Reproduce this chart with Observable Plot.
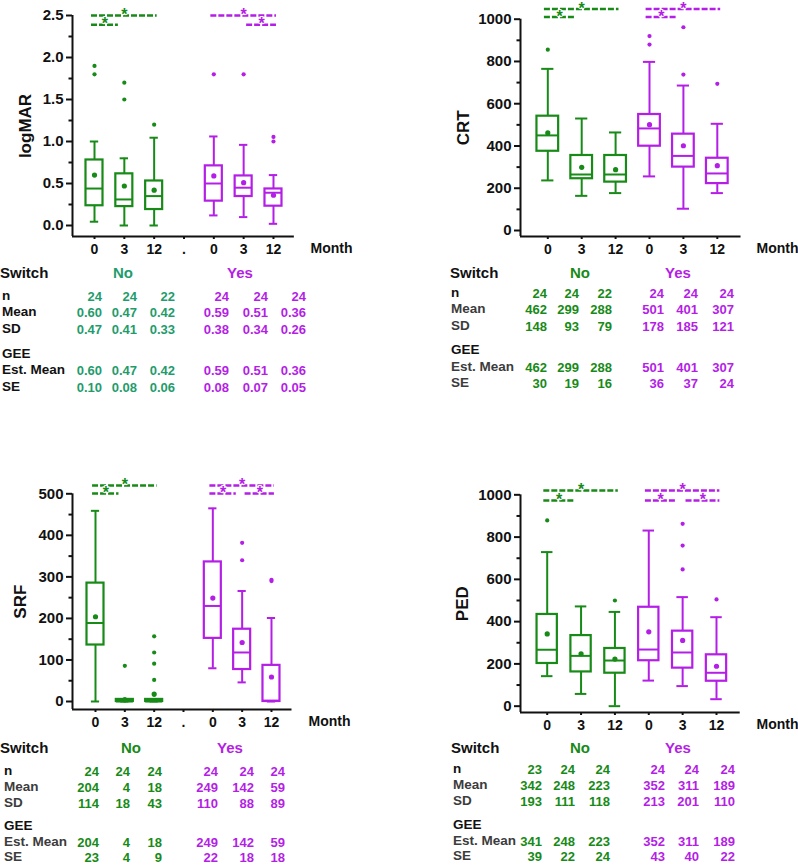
<!DOCTYPE html>
<html><head><meta charset="utf-8">
<script src="https://cdn.jsdelivr.net/npm/d3@7"></script>
<script src="https://cdn.jsdelivr.net/npm/@observablehq/plot@0.6"></script>
<style>
body{margin:0;background:#fff;font-family:"Liberation Sans",Arial,sans-serif;}
#wrap{position:relative;width:798px;height:866px;overflow:hidden;background:#fff;}
.panel{position:absolute;}
.t{position:absolute;font-weight:bold;line-height:1;white-space:nowrap;}
</style></head><body><div id="wrap"></div>
<script>
// ---------- shared categories ----------
const switchGroups = ["No", "Yes"];
const monthsWithGap = ["0", "3", "12", ".", "0", "3", "12"];
const monthsNoGap = ["0", "3", "12", "0", "3", "12"];
const rowLabels = ["n", "Mean", "SD", "GEE", "Est. Mean", "SE"];

// ---------- logMAR ----------
const logmarLow = [0.045, 0, 0, 0.12, 0.10, 0.02];
const logmarQ1 = [0.235, 0.225, 0.19, 0.29, 0.345, 0.23];
const logmarMedian = [0.44, 0.31, 0.35, 0.50, 0.45, 0.39];
const logmarQ3 = [0.78, 0.615, 0.53, 0.71, 0.59, 0.435];
const logmarHigh = [1.0, 0.80, 1.045, 1.06, 0.96, 0.60];
const logmarOutliers = [[1.9, 1.8], [1.7, 1.5], [1.2], [1.8], [1.8], [1.055, 1.0]];
const logmarN = [24, 24, 22, 24, 24, 24];
const logmarMean = [0.60, 0.47, 0.42, 0.59, 0.51, 0.36];
const logmarSD = [0.47, 0.41, 0.33, 0.38, 0.34, 0.26];
const logmarEstMean = [0.60, 0.47, 0.42, 0.59, 0.51, 0.36];
const logmarSE = [0.10, 0.08, 0.06, 0.08, 0.07, 0.05];
const logmarSig = [["No", 0, 2, 0], ["No", 0, 1, 1], ["Yes", 0, 2, 0], ["Yes", 1, 2, 1]];
const logmarSigLevels = [2.5, 2.39];
const logmarTicks = [0, 0.5, 1.0, 1.5, 2.0, 2.5];
const logmarMinor = [0.25, 0.75, 1.25, 1.75, 2.25];

// ---------- CRT ----------
const crtLow = [237, 164, 177, 256, 103, 177];
const crtQ1 = [375, 245, 229, 399, 300, 222];
const crtMedian = [450, 265, 265, 483, 353, 270];
const crtQ3 = [541, 355, 355, 549, 456, 342];
const crtHigh = [765, 530, 464, 798, 686, 505];
const crtOutliers = [[856], [], [], [920, 880], [962, 738], [694]];
const crtN = [24, 24, 22, 24, 24, 24];
const crtMean = [462, 299, 288, 501, 401, 307];
const crtSD = [148, 93, 79, 178, 185, 121];
const crtEstMean = [462, 299, 288, 501, 401, 307];
const crtSE = [30, 19, 16, 36, 37, 24];
const crtSig = [["No", 0, 2, 0], ["No", 0, 1, 1], ["Yes", 0, 2, 0], ["Yes", 0, 1, 1]];
const crtSigLevels = [1048, 1010];
const crtTicks = [0, 200, 400, 600, 800, 1000];
const crtMinor = [100, 300, 500, 700, 900];

// ---------- SRF ----------
const srfLow = [0, 0, 0, 80, 46, 0];
const srfQ1 = [136, 0, 0, 152, 77, 0];
const srfMedian = [189, 0, 0, 230, 118, 2];
const srfQ3 = [285, 5, 5, 336, 174, 87];
const srfHigh = [459, 5, 5, 465, 266, 201];
const srfOutliers = [[], [86, 5], [157, 118, 91, 52, 16], [], [382, 340], [290, 293]];
const srfN = [24, 24, 24, 24, 24, 24];
const srfMean = [204, 4, 18, 249, 142, 59];
const srfSD = [114, 18, 43, 110, 88, 89];
const srfEstMean = [204, 4, 18, 249, 142, 59];
const srfSE = [23, 4, 9, 22, 18, 18];
const srfSig = [["No", 0, 2, 0], ["No", 0, 1, 1], ["Yes", 0, 2, 0], ["Yes", 0, 1, 1], ["Yes", 1, 2, 1]];
const srfSigLevels = [520, 501];
const srfTicks = [0, 100, 200, 300, 400, 500];
const srfMinor = [50, 150, 250, 350, 450];

// ---------- PED ----------
const pedLow = [142, 58, 0, 121, 95, 33];
const pedQ1 = [202, 162, 156, 215, 180, 118];
const pedMedian = [267, 238, 216, 268, 254, 158];
const pedQ3 = [434, 334, 273, 468, 355, 243];
const pedHigh = [729, 472, 446, 831, 516, 421];
const pedOutliers = [[879], [], [500], [], [863, 760, 647], [505]];
const pedN = [23, 24, 24, 24, 24, 24];
const pedMean = [342, 248, 223, 352, 311, 189];
const pedSD = [193, 111, 118, 213, 201, 110];
const pedEstMean = [341, 248, 223, 352, 311, 189];
const pedSE = [39, 22, 24, 43, 40, 22];
const pedSig = [["No", 0, 2, 0], ["No", 0, 1, 1], ["Yes", 0, 2, 0], ["Yes", 0, 1, 1], ["Yes", 1, 2, 1]];
const pedSigLevels = [1020, 973];
const pedTicks = [0, 200, 400, 600, 800, 1000];
const pedMinor = [100, 300, 500, 700, 900];

// ---------- styles ----------
const GREEN = "#178a17", PURPLE = "#b41ee6", TEAL = "#1f9c6c", INK = "#111", GRAY = "#3c3c3c";
const FONT = "Liberation Sans, Arial, sans-serif";

const panels = [
  {ylabel: "logMAR", cats: monthsWithGap, low: logmarLow, q1: logmarQ1, median: logmarMedian, q3: logmarQ3, high: logmarHigh,
   outliers: logmarOutliers, mean: logmarMean, sig: logmarSig, sigLevels: logmarSigLevels, yMax: 2.5, ticks: logmarTicks, minor: logmarMinor,
   fmt: d3.format(".1f"), rows: [logmarN, logmarMean, logmarSD, null, logmarEstMean, logmarSE], vfmt: [d3.format("d"), d3.format(".2f"), d3.format(".2f"), null, d3.format(".2f"), d3.format(".2f")],
   L: {left: 0, top: 0, width: 399, height: 262, marginLeft: 72, yTop: 15, y0: 225, yAxisBottom: 236, x0: 94, dx: 29.83, monthEnd: 352, hw: 0.285, cw: 0.14, ylabOff: 54},
   T: {switchX: 0, labelX: 2, switchY: 272, noX: 123, yesX: 240, rowY: [296, 312, 329, 354, 370, 387], colRight: [102, 137, 175, 229, 268, 306], noColor: TEAL, grayLabels: false}},
  {ylabel: "CRT", cats: monthsNoGap, low: crtLow, q1: crtQ1, median: crtMedian, q3: crtQ3, high: crtHigh,
   outliers: crtOutliers, mean: crtMean, sig: crtSig, sigLevels: crtSigLevels, yMax: 1000, ticks: crtTicks, minor: crtMinor,
   fmt: d3.format("d"), rows: [crtN, crtMean, crtSD, null, crtEstMean, crtSE], vfmt: Array(6).fill(d3.format("d")),
   L: {left: 400, top: 0, width: 398, height: 262, marginLeft: 120, yTop: 18.7, y0: 230, yAxisBottom: 236, x0: 147.3, dx: 33.9, monthEnd: 398, hw: 0.32, cw: 0.18, ylabOff: 64},
   T: {switchX: 450, labelX: 451, switchY: 272, noX: 580, yesX: 678, rowY: [293, 309, 326, 350, 367, 383], colRight: [547, 579, 612, 664, 698, 734], noColor: GREEN, grayLabels: true}},
  {ylabel: "SRF", cats: monthsWithGap, low: srfLow, q1: srfQ1, median: srfMedian, q3: srfQ3, high: srfHigh,
   outliers: srfOutliers, mean: srfMean, sig: srfSig, sigLevels: srfSigLevels, yMax: 500, ticks: srfTicks, minor: srfMinor,
   fmt: d3.format("d"), rows: [srfN, srfMean, srfSD, null, srfEstMean, srfSE], vfmt: Array(6).fill(d3.format("d")),
   L: {left: 0, top: 470, width: 399, height: 262, marginLeft: 72, yTop: 23.3, y0: 231, yAxisBottom: 239, x0: 95, dx: 29.33, monthEnd: 350, hw: 0.29, cw: 0.14, ylabOff: 59},
   T: {switchX: 0, labelX: 4, switchY: 747, noX: 131, yesX: 230, rowY: [771, 787, 803, 826, 842, 857], colRight: [99, 130, 162, 218, 254, 285], noColor: GREEN, grayLabels: true}},
  {ylabel: "PED", cats: monthsNoGap, low: pedLow, q1: pedQ1, median: pedMedian, q3: pedQ3, high: pedHigh,
   outliers: pedOutliers, mean: pedMean, sig: pedSig, sigLevels: pedSigLevels, yMax: 1000, ticks: pedTicks, minor: pedMinor,
   fmt: d3.format("d"), rows: [pedN, pedMean, pedSD, null, pedEstMean, pedSE], vfmt: Array(6).fill(d3.format("d")),
   L: {left: 400, top: 470, width: 398, height: 262, marginLeft: 120, yTop: 24.33, y0: 235.67, yAxisBottom: 242, x0: 146.7, dx: 33.86, monthEnd: 398, hw: 0.3, cw: 0.17, ylabOff: 65},
   T: {switchX: 451, labelX: 453, switchY: 747, noX: 580, yesX: 678, rowY: [769, 785, 801, 825, 841, 856], colRight: [542, 575, 610, 665, 699, 735], noColor: GREEN, grayLabels: true}}
];

const wrap = document.getElementById("wrap");

function drawPanel(p) {
  const L = p.L;
  const nc = p.cats.length, yesStart = nc - 3;
  const idx = (g, k) => g === "No" ? k : yesStart + k;
  const boxes = p.low.map((_, j) => {
    const g = switchGroups[j < 3 ? 0 : 1], k = j % 3;
    return {g, i: idx(g, k), lo: p.low[j], q1: p.q1[j], med: p.median[j], q3: p.q3[j], hi: p.high[j], mean: p.mean[j]};
  });
  const outs = p.outliers.flatMap((arr, j) => arr.map(v => ({g: boxes[j].g, i: boxes[j].i, v})));
  const sig = p.sig.map(([g, a, b, lvl]) => {
    const ia = idx(g, a), ib = idx(g, b);
    const x1 = ia - 0.1 + (a === 1 ? 0.2 : 0);
    const x2 = ib + 0.1 - (b === 1 ? 0.3 : 0);
    return {g, x1, x2, xm: (x1 + x2) / 2, y: p.sigLevels[lvl]};
  });
  const pxPerUnit = (L.y0 - L.yTop) / p.yMax;
  const yMin = -(L.yAxisBottom - L.y0) / pxPerUnit;
  const xMin = (L.marginLeft - L.x0) / L.dx;
  const xMax = (L.monthEnd - L.x0) / L.dx;
  const xIdx = d3.range(nc);

  const chart = Plot.plot({
    width: L.width, height: L.height,
    marginLeft: L.marginLeft, marginRight: L.width - L.monthEnd,
    marginTop: L.yTop, marginBottom: L.height - L.yAxisBottom,
    style: {fontFamily: FONT, background: "transparent", overflow: "visible"},
    x: {type: "linear", domain: [xMin, xMax]},
    y: {domain: [yMin, p.yMax]},
    color: {domain: switchGroups, range: [GREEN, PURPLE]},
    marks: [
      Plot.ruleX([xMin], {stroke: INK, strokeWidth: 2}),
      Plot.ruleY([yMin], {x1: () => xMin, x2: () => nc - 1 + 0.7, stroke: INK, strokeWidth: 2}),
      Plot.axisY({ticks: p.ticks, tickFormat: p.fmt, tickSize: 6, tickPadding: 3, strokeWidth: 2, fontSize: 15, fontWeight: "bold", color: INK, label: null}),
      Plot.axisY({ticks: p.minor, tickFormat: () => "", tickSize: 3.5, strokeWidth: 2, color: INK, label: null}),
      Plot.axisX({ticks: xIdx, tickFormat: i => p.cats[i], tickSize: 3, tickPadding: 5, strokeWidth: 2, fontSize: 14, fontWeight: "bold", color: INK, label: null}),
      Plot.text([p.ylabel], {frameAnchor: "left", rotate: -90, dx: -L.ylabOff, lineAnchor: "top", textAnchor: "middle", fontSize: 17, fontWeight: "bold", fill: INK}),
      Plot.text(["Month"], {frameAnchor: "bottom-right", textAnchor: "end", lineAnchor: "middle", dy: 12, fontSize: 14, fontWeight: "bold", fill: INK}),
      // whiskers
      Plot.ruleX(boxes, {x: "i", y1: "q3", y2: "hi", stroke: "g", strokeWidth: 2}),
      Plot.ruleX(boxes, {x: "i", y1: "lo", y2: "q1", stroke: "g", strokeWidth: 2}),
      Plot.ruleY(boxes, {y: "hi", x1: d => d.i - L.cw, x2: d => d.i + L.cw, stroke: "g", strokeWidth: 2}),
      Plot.ruleY(boxes, {y: "lo", x1: d => d.i - L.cw, x2: d => d.i + L.cw, stroke: "g", strokeWidth: 2}),
      // boxes
      Plot.rect(boxes, {x1: d => d.i - L.hw, x2: d => d.i + L.hw, y1: "q1", y2: "q3", stroke: "g", fill: "none", strokeWidth: 2.2}),
      Plot.ruleY(boxes, {y: "med", x1: d => d.i - L.hw, x2: d => d.i + L.hw, stroke: "g", strokeWidth: 2}),
      // means and outliers
      Plot.dot(boxes, {x: "i", y: "mean", r: 2.6, fill: "g", stroke: null}),
      Plot.dot(outs, {x: "i", y: "v", r: 2.1, fill: "g", stroke: null}),
      // significance
      Plot.ruleY(sig, {y: "y", x1: "x1", x2: "x2", stroke: "g", strokeWidth: 2.5, strokeDasharray: "6,2"}),
      Plot.text(sig, {x: "xm", y: "y", text: () => "*", fill: "g", stroke: "white", strokeWidth: 2, paintOrder: "stroke", fontSize: 16, fontWeight: "bold", lineAnchor: "middle", dy: -0.5})
    ]
  });
  const holder = document.createElement("div");
  holder.className = "panel";
  holder.style.left = L.left + "px";
  holder.style.top = L.top + "px";
  holder.appendChild(chart);
  wrap.appendChild(holder);
}

function addText(txt, x, y, anchor, color, size) {
  const el = document.createElement("div");
  el.className = "t";
  el.textContent = txt;
  el.style.left = x + "px";
  el.style.top = y + "px";
  el.style.color = color;
  el.style.fontSize = size + "px";
  const tx = anchor === "end" ? "-100%" : anchor === "middle" ? "-50%" : "0";
  el.style.transform = `translate(${tx}, -50%)`;
  wrap.appendChild(el);
}

function drawTable(p) {
  const T = p.T;
  addText("Switch", T.switchX, T.switchY, "start", INK, 15);
  addText(switchGroups[0], T.noX, T.switchY, "middle", T.noColor, 15);
  addText(switchGroups[1], T.yesX, T.switchY, "middle", PURPLE, 15);
  rowLabels.forEach((lab, r) => {
    const dark = !T.grayLabels || lab === "n" || lab === "GEE";
    addText(lab, T.labelX, T.rowY[r], "start", dark ? INK : GRAY, 13.5);
    const vals = p.rows[r];
    if (!vals) return;
    vals.forEach((v, c) => {
      addText(p.vfmt[r](v), T.colRight[c], T.rowY[r], "end", c < 3 ? T.noColor : PURPLE, 13);
    });
  });
}

panels.forEach(p => { drawPanel(p); drawTable(p); });
</script>
</body></html>
